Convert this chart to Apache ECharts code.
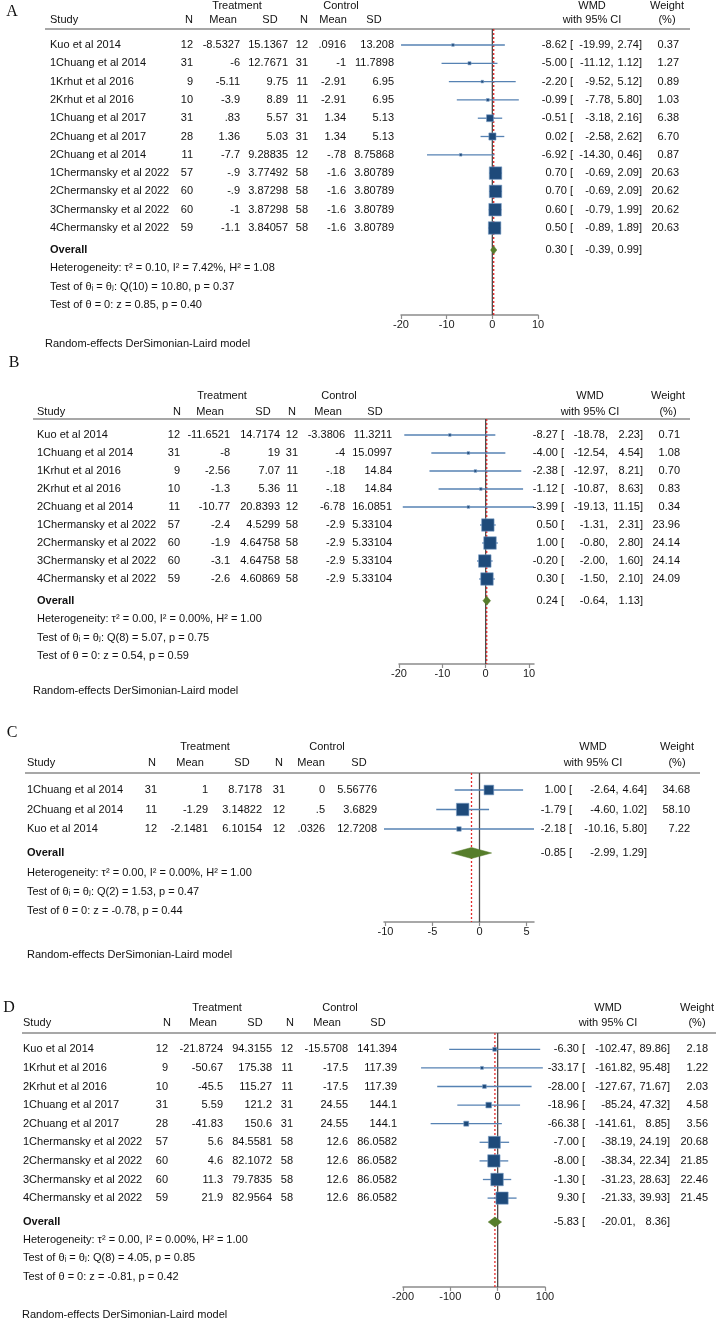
<!DOCTYPE html>
<html><head><meta charset="utf-8">
<script src="https://cdn.jsdelivr.net/npm/echarts@6/dist/echarts.min.js"></script>
<style>html,body{margin:0;padding:0;background:#fff}#c{width:720px;height:1321px}</style>
</head><body><div id="c"></div>
<script>
// ---------- Panel A ----------
const studiesA = ['Kuo et al 2014','1Chuang et al 2014','1Krhut et al 2016','2Krhut et al 2016','1Chuang et al 2017','2Chuang et al 2017','2Chuang et al 2014','1Chermansky et al 2022','2Chermansky et al 2022','3Chermansky et al 2022','4Chermansky et al 2022'];
const trtNA = [12,31,9,10,31,28,11,57,60,60,59];
const trtMeanA = ['-8.5327','-6','-5.11','-3.9','.83','1.36','-7.7','-.9','-.9','-1','-1.1'];
const trtSDA = ['15.1367','12.7671','9.75','8.89','5.57','5.03','9.28835','3.77492','3.87298','3.87298','3.84057'];
const ctlNA = [12,31,11,11,31,31,12,58,58,58,58];
const ctlMeanA = ['.0916','-1','-2.91','-2.91','1.34','1.34','-.78','-1.6','-1.6','-1.6','-1.6'];
const ctlSDA = ['13.208','11.7898','6.95','6.95','5.13','5.13','8.75868','3.80789','3.80789','3.80789','3.80789'];
const wmdA = [-8.62,-5.00,-2.20,-0.99,-0.51,0.02,-6.92,0.70,0.70,0.60,0.50];
const lowA = [-19.99,-11.12,-9.52,-7.78,-3.18,-2.58,-14.30,-0.69,-0.69,-0.79,-0.89];
const highA = [2.74,1.12,5.12,5.80,2.16,2.62,0.46,2.09,2.09,1.99,1.89];
const weightA = [0.37,1.27,0.89,1.03,6.38,6.70,0.87,20.63,20.62,20.62,20.63];
const overallA = [0.30,-0.39,0.99];
const footA = ['Heterogeneity: τ² = 0.10, I² = 7.42%, H² = 1.08','Test of θᵢ = θⱼ: Q(10) = 10.80, p = 0.37','Test of θ = 0: z = 0.85, p = 0.40'];
const ticksA = [-20,-10,0,10];

// ---------- Panel B ----------
const studiesB = ['Kuo et al 2014','1Chuang et al 2014','1Krhut et al 2016','2Krhut et al 2016','2Chuang et al 2014','1Chermansky et al 2022','2Chermansky et al 2022','3Chermansky et al 2022','4Chermansky et al 2022'];
const trtNB = [12,31,9,10,11,57,60,60,59];
const trtMeanB = ['-11.6521','-8','-2.56','-1.3','-10.77','-2.4','-1.9','-3.1','-2.6'];
const trtSDB = ['14.7174','19','7.07','5.36','20.8393','4.5299','4.64758','4.64758','4.60869'];
const ctlNB = [12,31,11,11,12,58,58,58,58];
const ctlMeanB = ['-3.3806','-4','-.18','-.18','-6.78','-2.9','-2.9','-2.9','-2.9'];
const ctlSDB = ['11.3211','15.0997','14.84','14.84','16.0851','5.33104','5.33104','5.33104','5.33104'];
const wmdB = [-8.27,-4.00,-2.38,-1.12,-3.99,0.50,1.00,-0.20,0.30];
const lowB = [-18.78,-12.54,-12.97,-10.87,-19.13,-1.31,-0.80,-2.00,-1.50];
const highB = [2.23,4.54,8.21,8.63,11.15,2.31,2.80,1.60,2.10];
const weightB = [0.71,1.08,0.70,0.83,0.34,23.96,24.14,24.14,24.09];
const overallB = [0.24,-0.64,1.13];
const footB = ['Heterogeneity: τ² = 0.00, I² = 0.00%, H² = 1.00','Test of θᵢ = θⱼ: Q(8) = 5.07, p = 0.75','Test of θ = 0: z = 0.54, p = 0.59'];
const ticksB = [-20,-10,0,10];

// ---------- Panel C ----------
const studiesC = ['1Chuang et al 2014','2Chuang et al 2014','Kuo et al 2014'];
const trtNC = [31,11,12];
const trtMeanC = ['1','-1.29','-2.1481'];
const trtSDC = ['8.7178','3.14822','6.10154'];
const ctlNC = [31,12,12];
const ctlMeanC = ['0','.5','.0326'];
const ctlSDC = ['5.56776','3.6829','12.7208'];
const wmdC = [1.00,-1.79,-2.18];
const lowC = [-2.64,-4.60,-10.16];
const highC = [4.64,1.02,5.80];
const weightC = [34.68,58.10,7.22];
const overallC = [-0.85,-2.99,1.29];
const footC = ['Heterogeneity: τ² = 0.00, I² = 0.00%, H² = 1.00','Test of θᵢ = θⱼ: Q(2) = 1.53, p = 0.47','Test of θ = 0: z = -0.78, p = 0.44'];
const ticksC = [-10,-5,0,5];

// ---------- Panel D ----------
const studiesD = ['Kuo et al 2014','1Krhut et al 2016','2Krhut et al 2016','1Chuang et al 2017','2Chuang et al 2017','1Chermansky et al 2022','2Chermansky et al 2022','3Chermansky et al 2022','4Chermansky et al 2022'];
const trtND = [12,9,10,31,28,57,60,60,59];
const trtMeanD = ['-21.8724','-50.67','-45.5','5.59','-41.83','5.6','4.6','11.3','21.9'];
const trtSDD = ['94.3155','175.38','115.27','121.2','150.6','84.5581','82.1072','79.7835','82.9564'];
const ctlND = [12,11,11,31,31,58,58,58,58];
const ctlMeanD = ['-15.5708','-17.5','-17.5','24.55','24.55','12.6','12.6','12.6','12.6'];
const ctlSDD = ['141.394','117.39','117.39','144.1','144.1','86.0582','86.0582','86.0582','86.0582'];
const wmdD = [-6.30,-33.17,-28.00,-18.96,-66.38,-7.00,-8.00,-1.30,9.30];
const lowD = [-102.47,-161.82,-127.67,-85.24,-141.61,-38.19,-38.34,-31.23,-21.33];
const highD = [89.86,95.48,71.67,47.32,8.85,24.19,22.34,28.63,39.93];
const weightD = [2.18,1.22,2.03,4.58,3.56,20.68,21.85,22.46,21.45];
const overallD = [-5.83,-20.01,8.36];
const footD = ['Heterogeneity: τ² = 0.00, I² = 0.00%, H² = 1.00','Test of θᵢ = θⱼ: Q(8) = 4.05, p = 0.85','Test of θ = 0: z = -0.81, p = 0.42'];
const ticksD = [-200,-100,0,100];

const colHeaders = ['N','Mean','SD','N','Mean','SD'];
const noteText = 'Random-effects DerSimonian-Laird model';

// ---------- layout (pixels) ----------
const LAY = [
  {letter:'A', lx:12, ly:12, trtY:6, hdrY:20, lineY:29, row0:45, step:18.3, ovY:250, footY:[268,287,305], axisY:315, noteX:45, noteY:344,
   lineX:[45,690], studyX:50, colR:[193,240,288,308,346,394], hdrC:[189,223,270,304,333,374], trtC:237, ctlC:341, wmdC:592, wtC:667,
   estR:573, loR:613.5, hiR:642, wR:679, xmin:-20, xmax:10, px:[401,538], dh:4},
  {letter:'B', lx:14, ly:363, trtY:396, hdrY:411.5, lineY:419, row0:435, step:18, ovY:600.7, footY:[619,637.5,656], axisY:664, noteX:33, noteY:691,
   lineX:[33,690], studyX:37, colR:[180,230,280,298,345,392], hdrC:[177,210,263,292,328,375], trtC:222, ctlC:339, wmdC:590, wtC:668,
   estR:564, loR:608, hiR:643, wR:680, xmin:-20, xmax:11.15, px:[399,534], dh:4.5},
  {letter:'C', lx:12, ly:733, trtY:747, hdrY:762.5, lineY:773, row0:790, step:19.5, ovY:853, footY:[873,892,911], axisY:922, noteX:27, noteY:955,
   lineX:[25,700], studyX:27, colR:[157,208,262,285,325,377], hdrC:[152,190,242,279,311,359], trtC:205, ctlC:327, wmdC:593, wtC:677,
   estR:572, loR:618.5, hiR:647, wR:690, xmin:-10.16, xmax:5.80, px:[384,534], dh:5.5},
  {letter:'D', lx:9, ly:1008, trtY:1007.5, hdrY:1023.3, lineY:1033, row0:1049.3, step:18.6, ovY:1222, footY:[1239.5,1258,1277], axisY:1287, noteX:22, noteY:1315,
   lineX:[22,716], studyX:23, colR:[168,223,272,293,348,397], hdrC:[167,203,255,290,327,378], trtC:217, ctlC:340, wmdC:608, wtC:697,
   estR:585, loR:635.5, hiR:670, wR:708, xmin:-200, xmax:100, px:[403,545], dh:5}
];

const panels = [
  {studies:studiesA, trtN:trtNA, trtMean:trtMeanA, trtSD:trtSDA, ctlN:ctlNA, ctlMean:ctlMeanA, ctlSD:ctlSDA, wmd:wmdA, low:lowA, high:highA, weight:weightA, overall:overallA, foot:footA, ticks:ticksA},
  {studies:studiesB, trtN:trtNB, trtMean:trtMeanB, trtSD:trtSDB, ctlN:ctlNB, ctlMean:ctlMeanB, ctlSD:ctlSDB, wmd:wmdB, low:lowB, high:highB, weight:weightB, overall:overallB, foot:footB, ticks:ticksB},
  {studies:studiesC, trtN:trtNC, trtMean:trtMeanC, trtSD:trtSDC, ctlN:ctlNC, ctlMean:ctlMeanC, ctlSD:ctlSDC, wmd:wmdC, low:lowC, high:highC, weight:weightC, overall:overallC, foot:footC, ticks:ticksC},
  {studies:studiesD, trtN:trtND, trtMean:trtMeanD, trtSD:trtSDD, ctlN:ctlND, ctlMean:ctlMeanD, ctlSD:ctlSDD, wmd:wmdD, low:lowD, high:highD, weight:weightD, overall:overallD, foot:footD, ticks:ticksD}
];

const FONT = '"Liberation Sans", Arial, "DejaVu Sans", sans-serif';
const SERIF = '"Liberation Serif", "Times New Roman", serif';
const TXT = '#111111';
const CI_COL = '#5682b3', SQ_COL = '#1e4a7a', SQ_EDGE = '#7b9dc6', DIA_COL = '#567d2b';

function fmt(v){ return v.toFixed(2); }
function txt(s, x, y, align, bold, size, family){
  return {type:'text', silent:true, z:10, style:{text:String(s), x:x, y:y, fill:TXT,
    font:(bold?'bold ':'')+(size||11)+'px '+(family||FONT), align:align, textAlign:align,
    verticalAlign:'middle', textVerticalAlign:'middle'}};
}

const grids=[], xAxes=[], yAxes=[], series=[], graphics=[];

panels.forEach(function(P, k){
  const L = LAY[k];
  const ymin = (L.lineY - L.row0)/L.step, ymax = (L.axisY - L.row0)/L.step;
  const ovIdx = (L.ovY - L.row0)/L.step;
  const wmax = Math.max.apply(null, P.weight);
  grids.push({left:L.px[0], width:L.px[1]-L.px[0], top:L.lineY, height:L.axisY-L.lineY});
  xAxes.push({type:'value', gridIndex:k, min:L.xmin, max:L.xmax,
    axisLine:{show:true, onZero:false, lineStyle:{color:'#8c8c8c', width:1.5}},
    axisTick:{show:true, customValues:P.ticks, length:4, lineStyle:{color:'#8c8c8c', width:1.2}},
    axisLabel:{customValues:P.ticks, fontSize:11, color:'#1a1a1a', fontFamily:FONT, margin:4},
    splitLine:{show:false}});
  yAxes.push({type:'value', gridIndex:k, inverse:true, min:ymin, max:ymax, show:false});

  series.push({type:'line', xAxisIndex:k, yAxisIndex:k, data:[[0,ymin],[0,ymax]], symbol:'none', silent:true, z:1,
    lineStyle:{color:'#4a4a4a', width:1.3}});
  series.push({type:'line', xAxisIndex:k, yAxisIndex:k, data:[[P.overall[0],ymin],[P.overall[0],ymax]], symbol:'none', silent:true, z:2,
    lineStyle:{color:'#e32a2a', width:1.3, type:[2,2]}});

  series.push({type:'custom', coordinateSystem:'cartesian2d', xAxisIndex:k, yAxisIndex:k, clip:false, silent:true, z:3,
    data:P.wmd.map(function(v,i){return [v,i];}),
    renderItem:function(params, api){
      const i = params.dataIndex;
      const y = api.coord([0,i])[1];
      const xl = api.coord([P.low[i],i])[0], xh = api.coord([P.high[i],i])[0], xe = api.coord([P.wmd[i],i])[0];
      const s = Math.max(2.6, 12.5*Math.sqrt(P.weight[i]/wmax));
      return {type:'group', children:[
        {type:'line', shape:{x1:xl,y1:y,x2:xh,y2:y}, style:{stroke:CI_COL, lineWidth:1.3}},
        {type:'rect', shape:{x:xe-s/2,y:y-s/2,width:s,height:s}, style:{fill:SQ_COL, stroke:SQ_EDGE, lineWidth:0.6}},
        txt(P.studies[i], L.studyX, y, 'left'),
        txt(P.trtN[i], L.colR[0], y, 'right'),
        txt(P.trtMean[i], L.colR[1], y, 'right'),
        txt(P.trtSD[i], L.colR[2], y, 'right'),
        txt(P.ctlN[i], L.colR[3], y, 'right'),
        txt(P.ctlMean[i], L.colR[4], y, 'right'),
        txt(P.ctlSD[i], L.colR[5], y, 'right'),
        txt(fmt(P.wmd[i])+' [', L.estR, y, 'right'),
        txt(fmt(P.low[i])+',', L.loR, y, 'right'),
        txt(fmt(P.high[i])+']', L.hiR, y, 'right'),
        txt(fmt(P.weight[i]), L.wR, y, 'right')
      ]};
    }});

  series.push({type:'custom', coordinateSystem:'cartesian2d', xAxisIndex:k, yAxisIndex:k, clip:false, silent:true, z:4,
    data:[[P.overall[0], ovIdx]],
    renderItem:function(params, api){
      const c = api.coord([P.overall[0], ovIdx]);
      const xl = api.coord([P.overall[1], ovIdx])[0], xh = api.coord([P.overall[2], ovIdx])[0];
      const y = c[1];
      return {type:'group', children:[
        {type:'polygon', shape:{points:[[xl,y],[c[0],y-L.dh],[xh,y],[c[0],y+L.dh]]}, style:{fill:DIA_COL, stroke:DIA_COL, lineWidth:0.5}},
        txt('Overall', L.studyX, y, 'left', true),
        txt(fmt(P.overall[0])+' [', L.estR, y, 'right'),
        txt(fmt(P.overall[1])+',', L.loR, y, 'right'),
        txt(fmt(P.overall[2])+']', L.hiR, y, 'right')
      ]};
    }});

  graphics.push(txt(L.letter, L.lx, L.ly, 'center', false, 16, SERIF));
  graphics.push(txt('Treatment', L.trtC, L.trtY, 'center'));
  graphics.push(txt('Control', L.ctlC, L.trtY, 'center'));
  graphics.push(txt('WMD', L.wmdC, L.trtY, 'center'));
  graphics.push(txt('Weight', L.wtC, L.trtY, 'center'));
  graphics.push(txt('Study', L.studyX, L.hdrY, 'left'));
  colHeaders.forEach(function(h, j){ graphics.push(txt(h, L.hdrC[j], L.hdrY, 'center')); });
  graphics.push(txt('with 95% CI', L.wmdC, L.hdrY, 'center'));
  graphics.push(txt('(%)', L.wtC, L.hdrY, 'center'));
  graphics.push({type:'line', silent:true, shape:{x1:L.lineX[0], y1:L.lineY, x2:L.lineX[1], y2:L.lineY}, style:{stroke:'#8a8a8a', lineWidth:1.6}});
  P.foot.forEach(function(f, j){ graphics.push(txt(f, L.studyX, L.footY[j], 'left')); });
  graphics.push(txt(noteText, L.noteX, L.noteY, 'left'));
});

const chart = echarts.init(document.getElementById('c'), null, {renderer:'canvas'});
chart.setOption({
  animation:false,
  backgroundColor:'#ffffff',
  grid:grids, xAxis:xAxes, yAxis:yAxes, series:series,
  graphic:{elements:graphics}
});
</script>
</body></html>
